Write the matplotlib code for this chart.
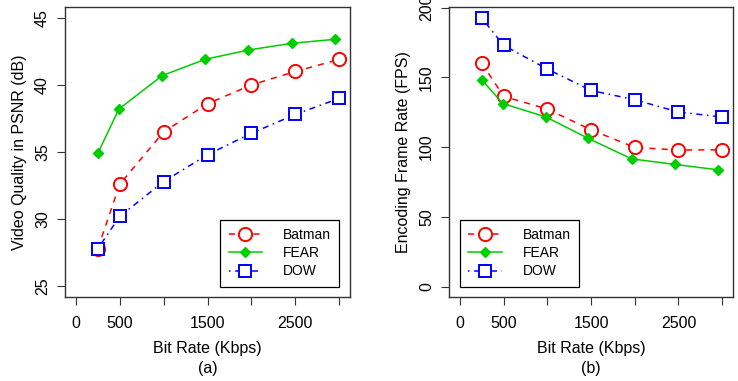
import numpy as np
import matplotlib
matplotlib.use("Agg")
import matplotlib.pyplot as plt

plt.rcParams['font.family'] = ['Liberation Sans', 'DejaVu Sans']

# bit rates (Kbps)
rate = [250, 500, 1000, 1500, 2000, 2500, 3000]
rate_fear = [250, 490, 985, 1470, 1965, 2460, 2955]

# (a) PSNR (dB)
psnr_batman = [27.8, 32.6, 36.5, 38.6, 40.0, 41.0, 41.9]
psnr_fear = [34.9, 38.2, 40.7, 41.9, 42.6, 43.1, 43.4]
psnr_dow = [27.8, 30.2, 32.8, 34.8, 36.4, 37.8, 39.0]

# (b) encoding frame rate (FPS)
fps_batman = [160.3, 136.4, 127.3, 112.4, 99.8, 97.9, 98.1]
fps_fear = [148.3, 131.3, 121.6, 106.2, 91.6, 87.6, 83.7]
fps_dow = [192.6, 173.0, 156.0, 140.7, 134.0, 125.2, 121.6]

xticks = [0, 500, 1000, 1500, 2000, 2500, 3000]
xticklabels = ['0', '500', '', '1500', '', '2500', '']

fig = plt.figure(figsize=(7.38, 3.81), dpi=100)
ax1 = fig.add_axes([0.0885, 0.2205, 0.3855, 0.761])
ax2 = fig.add_axes([0.609, 0.2205, 0.3838, 0.761])

red, green, blue = '#FF0000', '#00CD00', '#0000FF'


def draw(ax, yb, yf, yd):
    ax.plot(rate, yb, color=red, lw=1.1, ls=(0, (4, 4)), marker='o', ms=9.5,
            mfc='white', mec=red, mew=1.4, label='Batman')
    ax.plot(rate_fear, yf, color=green, lw=1.1, ls='-', marker='D', ms=5.5,
            mfc=green, mec=green, label='FEAR')
    ax.plot(rate, yd, color=blue, lw=1.1, ls=(0, (1, 3, 4, 3)), marker='s', ms=8.5,
            mfc='white', mec=blue, mew=1.4, label='DOW')
    ax.set_xlim(-120, 3120)
    ax.set_xticks(xticks)
    ax.set_xticklabels(xticklabels)
    ax.tick_params(axis='both', direction='out', length=6, width=0.8,
                   labelsize=11.5, color='#333333')
    ax.tick_params(axis='x', pad=8)
    ax.tick_params(axis='y', pad=5)
    for s in ax.spines.values():
        s.set_color('#333333')
        s.set_linewidth(1.0)
    ax.set_xlabel('Bit Rate (Kbps)', fontsize=11.5, labelpad=7)


def finish(ax, label, tag, loc, anchor):
    for lab in ax.get_yticklabels():
        lab.set_rotation(90)
        lab.set_va('center')
    ax.set_ylabel(label, fontsize=11.5, labelpad=6)
    ax.text(0.5, -0.245, tag, transform=ax.transAxes, ha='center', va='center',
            fontsize=11.5)
    leg = ax.legend(loc=loc, bbox_to_anchor=anchor,
                    borderaxespad=0, fancybox=False, edgecolor='black',
                    framealpha=1, fontsize=10, handlelength=2.4,
                    handletextpad=1.5, labelspacing=0.3, borderpad=0.6,
                    numpoints=1)
    leg.get_frame().set_linewidth(0.9)


draw(ax1, psnr_batman, psnr_fear, psnr_dow)
ax1.set_ylim(24.2, 45.8)
ax1.set_yticks([25, 30, 35, 40, 45])
finish(ax1, 'Video Quality in PSNR (dB)', '(a)', 'lower right', (0.962, 0.0355))

draw(ax2, fps_batman, fps_fear, fps_dow)
ax2.set_ylim(-7.5, 200.5)
ax2.set_yticks([0, 50, 100, 150, 200])
finish(ax2, 'Encoding Frame Rate (FPS)', '(b)', 'lower left', (0.0376, 0.0355))

fig.savefig('out.png', dpi=100)
